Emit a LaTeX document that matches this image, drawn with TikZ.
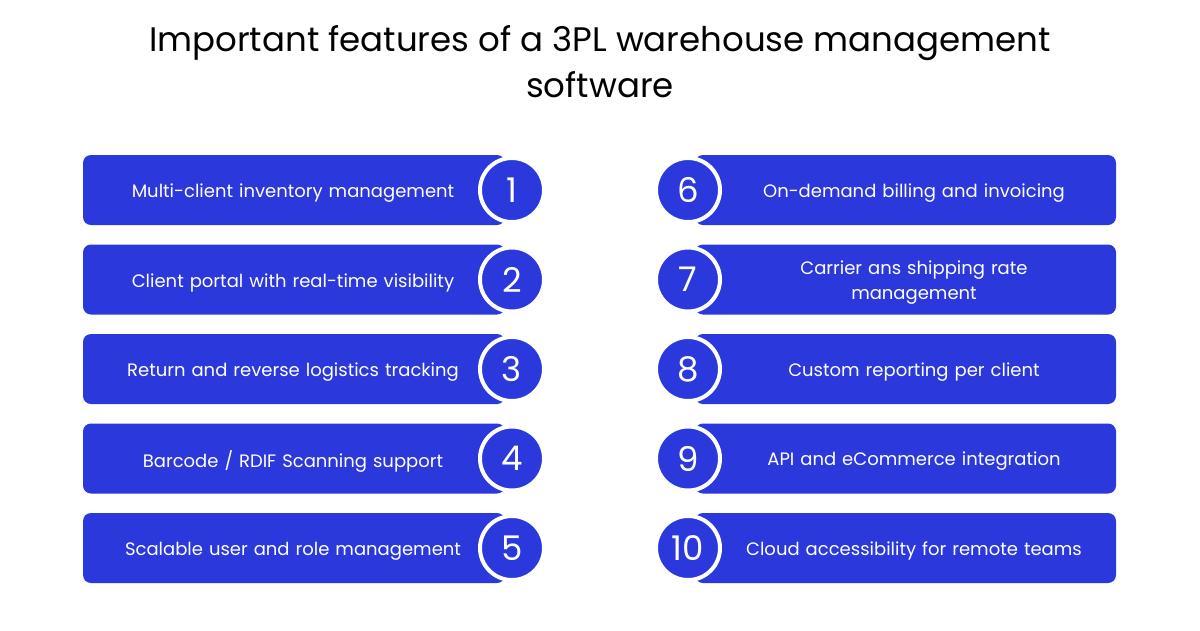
\documentclass[tikz,border=0pt]{standalone}
\usepackage{fontspec}
\setmainfont{Poppins}
\definecolor{bl}{HTML}{2B38DB}
\begin{document}
\begin{tikzpicture}[x=1pt,y=-1pt,
 bar/.style={fill=bl,rounded corners=8pt,draw=none},
 num/.style={circle,fill=bl,draw=white,line width=4pt,minimum size=64pt,inner sep=0,text=white,font=\fontsize{34}{34}\selectfont},
 lbl/.style={text=white,font=\fontsize{18}{25}\selectfont,align=center,text width=400pt,yshift=-3pt}]
\useasboundingbox[fill=white] (0,0) rectangle (1200,630);
\node[font=\fontsize{34}{46}\selectfont,align=center] (title) at (600,62) {Important features of a 3PL warehouse management\\software};
\foreach \i/\t [count=\k from 0] in {1/Multi-client inventory management,2/Client portal with real-time visibility,3/Return and reverse logistics tracking,4/{Barcode / RDIF Scanning support},5/Scalable user and role management}{
 \pgfmathsetmacro\yy{190+89.5*\k}
 \fill[bar] (83,\yy-35) rectangle (505,\yy+35);
 \node[lbl] (l\i) at (293,\yy) {\t};
 \node[num] (n\i) at (512,\yy) {\i};
}
\foreach \i/\t [count=\k from 0] in {6/On-demand billing and invoicing,7/{Carrier ans shipping rate\\management},8/Custom reporting per client,9/API and eCommerce integration,10/Cloud accessibility for remote teams}{
 \pgfmathsetmacro\yy{190+89.5*\k}
 \fill[bar] (695,\yy-35) rectangle (1116,\yy+35);
 \node[lbl] (l\i) at (914,\yy) {\t};
 \node[num] (n\i) at (688,\yy) {\i};
}
\end{tikzpicture}
\end{document}
